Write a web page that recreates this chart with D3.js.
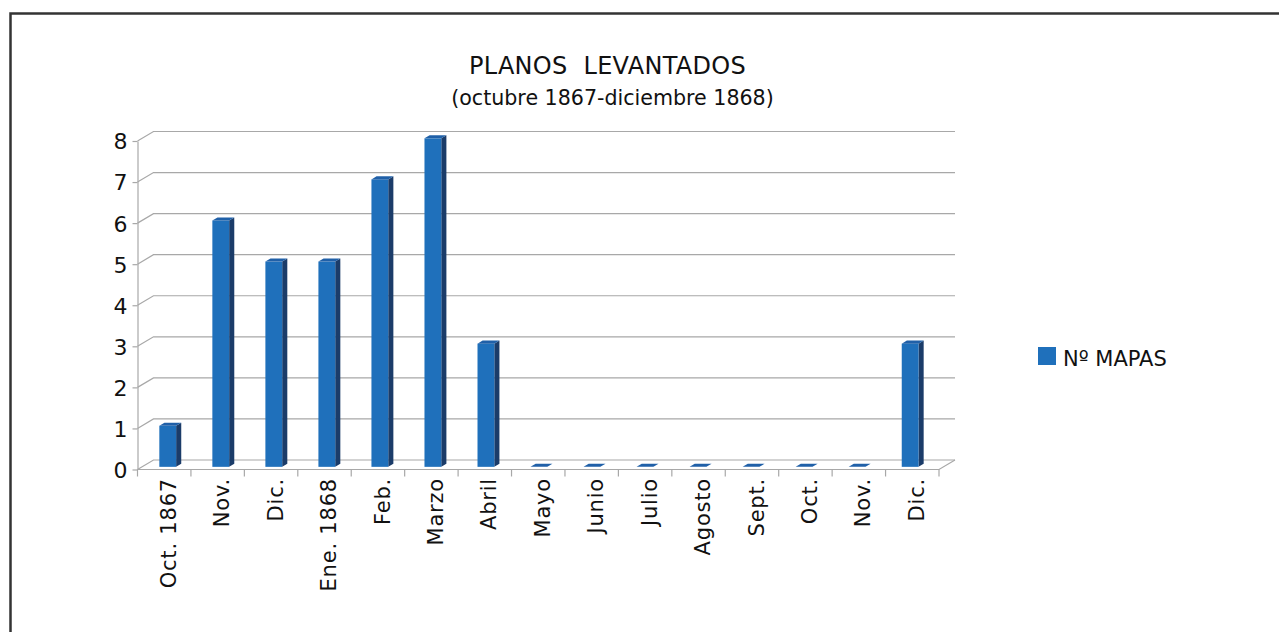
<!DOCTYPE html>
<html><head><meta charset="utf-8">
<script src="https://cdn.jsdelivr.net/npm/d3@7"></script>
<style>html,body{margin:0;padding:0;background:#fff;overflow:hidden}</style>
</head><body>
<script>
const categories = ["Oct. 1867","Nov.","Dic.","Ene. 1868","Feb.","Marzo","Abril","Mayo","Junio","Julio","Agosto","Sept.","Oct.","Nov.","Dic."];
const values = [1,6,5,5,7,8,3,0,0,0,0,0,0,0,3];
const yTicks = [0,1,2,3,4,5,6,7,8];
const seriesName = "Nº MAPAS";
const title = "PLANOS  LEVANTADOS";
const subtitle = "(octubre 1867-diciembre 1868)";

const W = 1279, H = 632;
const FONT = "DejaVu Sans, sans-serif";
const svg = d3.select("body").append("svg").attr("width", W).attr("height", H);

// frame
svg.append("rect").attr("x", 10.5).attr("y", 13.5).attr("width", 1300).attr("height", 700)
  .attr("fill", "none").attr("stroke", "#333").attr("stroke-width", 2.5);

const DX = 16, DY = -9.5;
const x0 = 137.5, x1 = 939;
const x = d3.scaleBand().domain(d3.range(categories.length)).range([x0, x1]);
// bars sit slightly deeper in the 3D box, so their spacing is a little tighter
const xb = d3.scaleBand().domain(d3.range(categories.length)).range([140.5, 935.95]);
const y = d3.scaleLinear().domain([0, 8]).range([469.5, 141]);

const grid = svg.append("g").attr("stroke", "#a8a8a8").attr("fill", "none").attr("stroke-width", 1.2);
yTicks.forEach(v => {
  const yy = y(v);
  grid.append("path").attr("d", `M${x0},${yy}L${x0+DX},${yy+DY}L${x1+DX},${yy+DY}`);
});
grid.append("path").attr("d", `M${x0},${y(0)}L${x1},${y(0)}L${x1+DX},${y(0)+DY}`);
d3.range(categories.length + 1).forEach(i => {
  const xx = i < categories.length ? x(i) : x1;
  grid.append("line").attr("x1", xx).attr("x2", xx).attr("y1", y(0)).attr("y2", y(0) + 7);
});

// y axis
const yAxis = svg.append("g").attr("transform", `translate(${x0},0)`)
  .call(d3.axisLeft(y).tickValues(yTicks).tickFormat(d3.format("d")).tickSize(5).tickSizeOuter(0).tickPadding(5));
yAxis.selectAll("path,line").attr("stroke", "#a8a8a8").attr("stroke-width", 1.2);
yAxis.selectAll("text").attr("font-family", FONT).attr("font-size", 22).attr("fill", "#111").attr("dy", "0.36em");

// bars
const bw = xb.bandwidth(), barW = 16.8, t0 = 0.28, t1 = 0.6;
const bars = svg.append("g");
values.forEach((v, i) => {
  const ax = t0 * DX, ay = t0 * DY, bx = t1 * DX, by = t1 * DY;
  const xl = xb(i) + bw * 0.355 - ax, xr = xl + barW;
  const yt = y(v), yb = y(0);
  const g = bars.append("g");
  g.append("path").attr("d", `M${xr+ax},${yt+ay}L${xr+bx},${yt+by}L${xr+bx},${yb+by}L${xr+ax},${yb+ay}Z`).attr("fill", "#1b3c69");
  g.append("rect").attr("x", xl + ax).attr("y", yt + ay).attr("width", barW).attr("height", yb - yt).attr("fill", "#1f70bb");
  g.append("path").attr("d", `M${xl+ax},${yt+ay}L${xl+bx},${yt+by}L${xr+bx},${yt+by}L${xr+ax},${yt+ay}Z`).attr("fill", "#2060a8");
});

// x labels
const xlab = svg.append("g");
categories.forEach((c, i) => {
  const cx = x(i) + x.bandwidth() / 2 + 4;
  xlab.append("text").attr("transform", `translate(${cx},478) rotate(-90)`)
    .attr("text-anchor", "end").attr("dy", "0.36em")
    .attr("font-family", FONT).attr("font-size", 21).attr("letter-spacing", 0.8).attr("fill", "#111").text(c);
});

// title
svg.append("text").attr("x", 607.5).attr("y", 74).attr("text-anchor", "middle")
  .attr("font-family", FONT).attr("font-size", 24).attr("letter-spacing", 0.3).attr("fill", "#111").style("white-space", "pre").text(title);
svg.append("text").attr("x", 612.5).attr("y", 105).attr("text-anchor", "middle")
  .attr("font-family", FONT).attr("font-size", 20.6).attr("fill", "#111").text(subtitle);

// legend
svg.append("rect").attr("x", 1038).attr("y", 347).attr("width", 18).attr("height", 18).attr("fill", "#1f70bb");
svg.append("text").attr("x", 1063).attr("y", 366).attr("font-family", FONT).attr("font-size", 21).attr("fill", "#111").text(seriesName);
</script>
</body></html>
